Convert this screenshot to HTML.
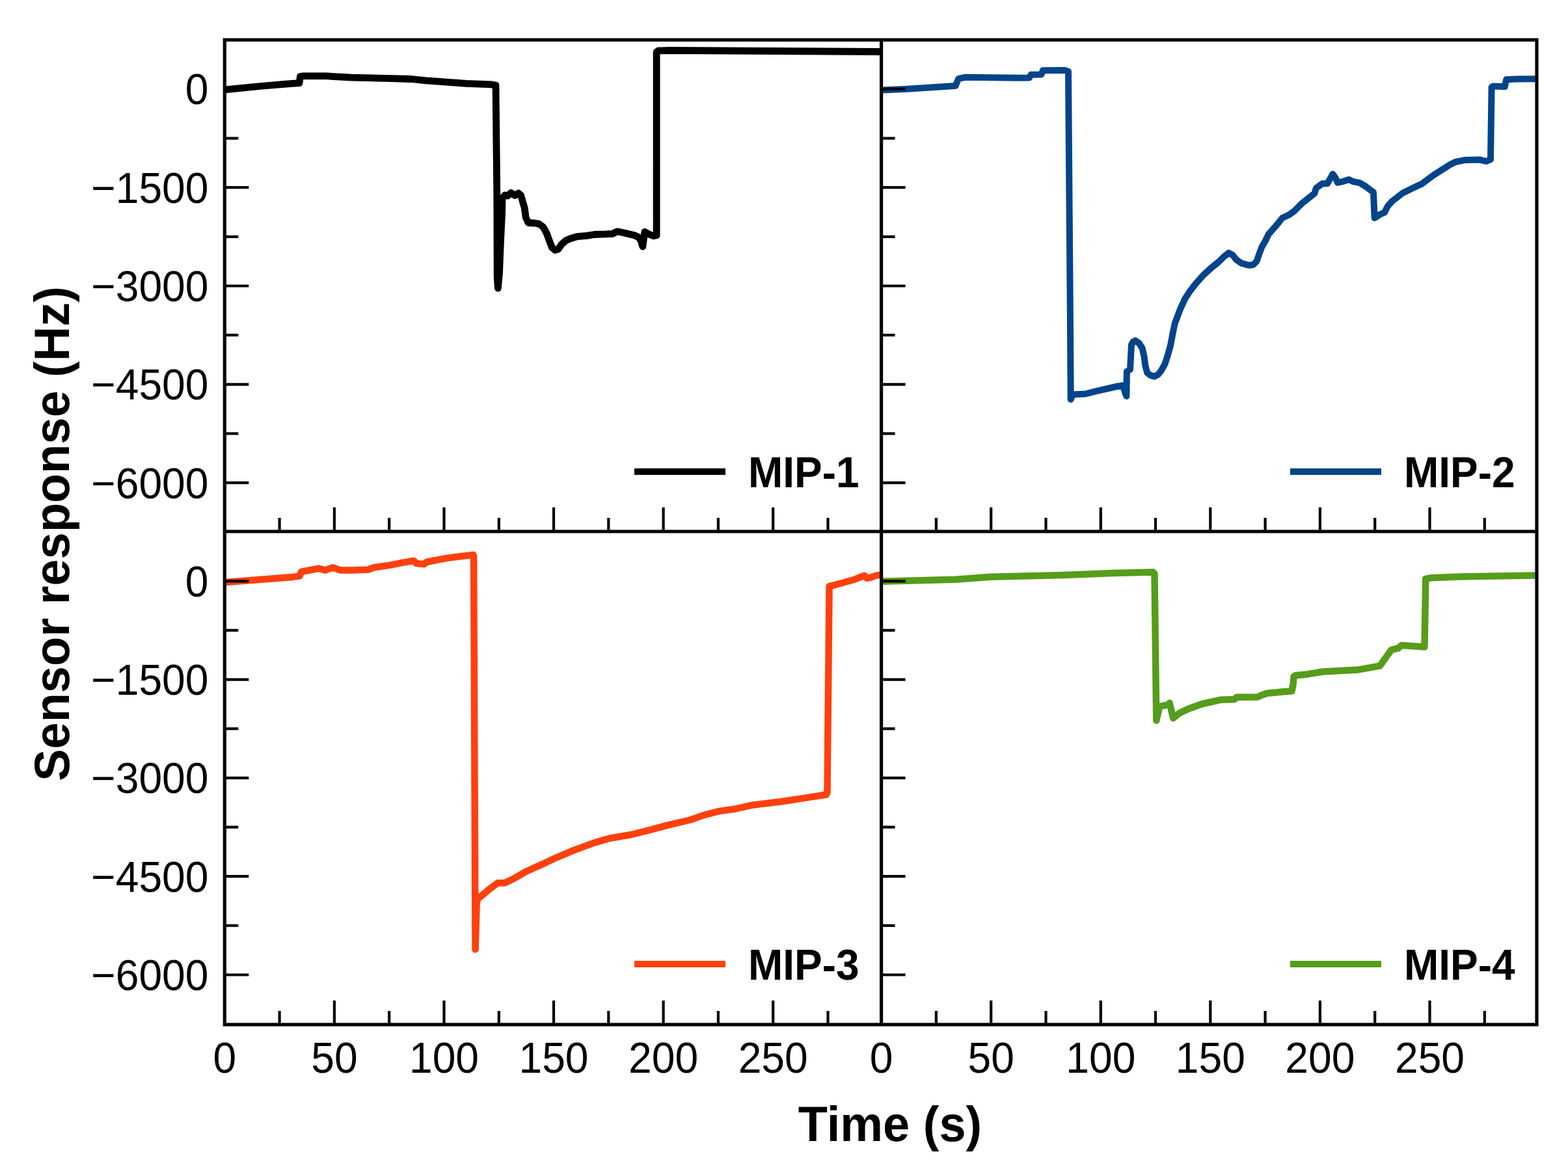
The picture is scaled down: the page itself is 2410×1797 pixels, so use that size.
<!DOCTYPE html>
<html><head><meta charset="utf-8"><title>Sensor response</title>
<style>html,body{margin:0;padding:0;background:#fff;}svg{display:block;}</style></head>
<body><svg xmlns="http://www.w3.org/2000/svg" width="2410" height="1797" viewBox="0 0 2410 1797">
<rect width="2410" height="1797" fill="#fff"/>
<defs>
<clipPath id="tl"><rect x="345.3" y="61.3" width="1009.3" height="755.7"/></clipPath>
<clipPath id="tr"><rect x="1354.6" y="61.3" width="1007.4" height="755.7"/></clipPath>
<clipPath id="bl"><rect x="345.3" y="817.0" width="1009.3" height="758.0"/></clipPath>
<clipPath id="br"><rect x="1354.6" y="817.0" width="1007.4" height="758.0"/></clipPath>
</defs>
<polyline clip-path="url(#tl)" points="346.2,137.8 400.0,132.5 440.0,129.2 460.0,127.6 461.5,117.5 466.0,116.9 501.4,116.9 539.7,119.2 570.4,119.9 601.1,120.7 631.8,121.5 654.8,123.8 685.5,126.1 716.2,128.4 754.5,129.9 762.0,131.0 763.8,300.0 764.2,425.0 765.3,443.0 767.5,420.0 769.5,370.0 771.5,330.0 772.0,305.0 776.0,300.0 780.0,301.0 785.5,296.5 791.5,300.5 797.0,297.0 800.5,300.0 804.0,312.0 806.3,320.0 808.2,334.5 812.1,342.5 821.8,343.0 828.0,344.0 834.9,349.0 840.2,358.7 844.6,370.8 848.4,380.5 853.3,384.4 858.1,383.0 863.0,375.7 870.2,369.4 877.5,366.5 887.2,363.6 901.7,362.3 913.5,360.5 931.0,359.9 941.6,359.3 948.7,355.8 960.4,358.2 975.0,361.7 982.1,365.2 985.0,370.0 987.8,379.0 990.9,356.4 998.5,360.5 1004.4,362.8 1009.1,361.7 1009.1,80.0 1012.0,78.0 1027.9,77.5 1356.0,79.5" fill="none" stroke="#000000" stroke-width="10.8" stroke-linejoin="round" stroke-linecap="round"/>
<polyline clip-path="url(#tr)" points="1355.5,138.4 1391.1,136.9 1468.5,132.1 1473.2,121.1 1484.3,118.7 1568.0,119.8 1582.0,119.6 1584.5,114.8 1600.5,114.5 1603.0,108.2 1637.0,108.1 1642.0,110.0 1645.0,500.0 1645.7,614.0 1649.0,606.4 1668.4,605.5 1687.8,600.6 1716.9,594.0 1726.5,592.5 1729.4,604.0 1731.4,609.0 1731.9,571.0 1737.0,568.0 1739.0,530.0 1741.5,525.5 1745.0,523.6 1750.7,527.5 1755.6,535.2 1758.5,547.8 1760.4,562.3 1763.3,573.0 1768.2,576.9 1774.0,578.8 1779.8,575.9 1784.6,570.0 1790.5,559.4 1794.3,547.8 1799.2,530.4 1803.0,510.0 1805.7,497.5 1813.6,476.2 1821.5,458.9 1829.3,447.1 1837.2,436.9 1849.0,423.5 1860.8,412.5 1872.6,403.0 1880.5,395.2 1888.3,388.9 1894.6,392.0 1900.1,399.1 1908.0,404.6 1919.8,407.8 1926.1,407.0 1931.6,401.5 1935.6,389.7 1939.5,379.4 1945.0,370.0 1949.7,360.1 1961.5,346.8 1970.9,335.0 1981.1,330.3 1989.0,324.7 2000.8,312.9 2012.6,303.5 2020.5,297.2 2022.8,289.3 2032.3,282.3 2040.1,282.3 2048.5,267.5 2052.7,273.6 2055.9,280.7 2063.8,279.1 2073.2,276.0 2079.5,279.1 2090.0,281.2 2099.5,286.9 2110.9,295.4 2112.7,335.0 2121.3,329.5 2127.9,326.7 2132.7,317.2 2139.3,309.6 2156.4,296.4 2180.0,285.0 2184.8,283.1 2203.7,268.9 2229.3,252.7 2236.9,249.0 2251.1,246.1 2274.8,245.6 2284.3,248.0 2291.0,245.2 2292.6,134.0 2295.0,132.5 2312.9,133.2 2315.2,122.3 2331.8,121.5 2363.0,121.2" fill="none" stroke="#03448a" stroke-width="10" stroke-linejoin="round" stroke-linecap="round"/>
<polyline clip-path="url(#bl)" points="347.2,895.0 383.3,892.3 450.0,886.9 460.5,885.6 463.1,879.0 476.2,876.4 489.3,873.8 499.7,876.4 511.5,872.5 523.3,876.4 541.6,876.4 565.2,875.8 574.3,872.5 600.5,868.6 620.2,864.6 635.9,862.0 639.8,866.0 651.6,867.3 655.5,864.0 685.6,858.1 711.8,854.8 727.5,852.9 728.1,855.0 730.6,1459.5 732.6,1390.0 734.0,1382.0 739.3,1377.6 752.0,1367.0 765.0,1357.3 775.8,1357.3 790.0,1350.5 808.3,1339.7 835.4,1327.6 855.7,1318.1 880.0,1307.8 913.8,1295.4 936.4,1288.7 970.3,1283.0 992.8,1277.4 1026.7,1268.4 1060.5,1260.5 1083.1,1252.6 1105.6,1246.9 1130.0,1243.5 1155.1,1237.8 1200.3,1232.2 1245.4,1225.4 1270.2,1221.5 1271.5,1218.0 1274.6,901.3 1296.6,895.5 1313.6,890.7 1324.2,886.5 1328.7,884.8 1332.5,888.8 1337.8,887.8 1346.9,884.6 1356.0,883.5" fill="none" stroke="#ff400e" stroke-width="10.5" stroke-linejoin="round" stroke-linecap="round"/>
<polyline clip-path="url(#br)" points="1356.1,893.8 1469.1,890.8 1522.8,886.8 1636.0,883.9 1711.4,880.9 1772.4,879.6 1774.5,882.0 1777.3,1107.5 1782.2,1086.2 1794.8,1083.4 1797.6,1080.6 1803.2,1104.0 1813.0,1096.0 1827.0,1089.5 1847.9,1082.0 1875.9,1075.8 1897.6,1075.1 1900.5,1071.8 1932.8,1071.6 1938.7,1068.7 1947.4,1065.7 1970.9,1063.4 1985.6,1062.3 1987.9,1050.0 1988.5,1040.0 1991.4,1038.2 2010.0,1036.4 2032.8,1032.5 2085.6,1029.8 2120.8,1023.7 2138.4,999.0 2149.0,996.4 2154.2,992.0 2189.4,994.6 2190.3,950.0 2191.2,889.9 2200.0,888.2 2244.0,886.4 2363.0,884.6" fill="none" stroke="#559d1a" stroke-width="10.5" stroke-linejoin="round" stroke-linecap="round"/>
<g stroke="#000" stroke-width="4.2" stroke-linecap="butt">
<line x1="345.3" y1="136.9" x2="382.3" y2="136.9"/>
<line x1="1354.6" y1="136.9" x2="1391.6" y2="136.9"/>
<line x1="345.3" y1="212.6" x2="366.3" y2="212.6"/>
<line x1="1354.6" y1="212.6" x2="1375.6" y2="212.6"/>
<line x1="345.3" y1="288.2" x2="382.3" y2="288.2"/>
<line x1="1354.6" y1="288.2" x2="1391.6" y2="288.2"/>
<line x1="345.3" y1="363.9" x2="366.3" y2="363.9"/>
<line x1="1354.6" y1="363.9" x2="1375.6" y2="363.9"/>
<line x1="345.3" y1="439.5" x2="382.3" y2="439.5"/>
<line x1="1354.6" y1="439.5" x2="1391.6" y2="439.5"/>
<line x1="345.3" y1="515.1" x2="366.3" y2="515.1"/>
<line x1="1354.6" y1="515.1" x2="1375.6" y2="515.1"/>
<line x1="345.3" y1="590.8" x2="382.3" y2="590.8"/>
<line x1="1354.6" y1="590.8" x2="1391.6" y2="590.8"/>
<line x1="345.3" y1="666.5" x2="366.3" y2="666.5"/>
<line x1="1354.6" y1="666.5" x2="1375.6" y2="666.5"/>
<line x1="345.3" y1="742.1" x2="382.3" y2="742.1"/>
<line x1="1354.6" y1="742.1" x2="1391.6" y2="742.1"/>
<line x1="345.3" y1="893.3" x2="382.3" y2="893.3"/>
<line x1="1354.6" y1="893.3" x2="1391.6" y2="893.3"/>
<line x1="345.3" y1="968.9" x2="366.3" y2="968.9"/>
<line x1="1354.6" y1="968.9" x2="1375.6" y2="968.9"/>
<line x1="345.3" y1="1044.6" x2="382.3" y2="1044.6"/>
<line x1="1354.6" y1="1044.6" x2="1391.6" y2="1044.6"/>
<line x1="345.3" y1="1120.2" x2="366.3" y2="1120.2"/>
<line x1="1354.6" y1="1120.2" x2="1375.6" y2="1120.2"/>
<line x1="345.3" y1="1195.9" x2="382.3" y2="1195.9"/>
<line x1="1354.6" y1="1195.9" x2="1391.6" y2="1195.9"/>
<line x1="345.3" y1="1271.5" x2="366.3" y2="1271.5"/>
<line x1="1354.6" y1="1271.5" x2="1375.6" y2="1271.5"/>
<line x1="345.3" y1="1347.2" x2="382.3" y2="1347.2"/>
<line x1="1354.6" y1="1347.2" x2="1391.6" y2="1347.2"/>
<line x1="345.3" y1="1422.8" x2="366.3" y2="1422.8"/>
<line x1="1354.6" y1="1422.8" x2="1375.6" y2="1422.8"/>
<line x1="345.3" y1="1498.5" x2="382.3" y2="1498.5"/>
<line x1="1354.6" y1="1498.5" x2="1391.6" y2="1498.5"/>
<line x1="429.6" y1="817.0" x2="429.6" y2="796.0"/>
<line x1="513.9" y1="817.0" x2="513.9" y2="780.0"/>
<line x1="598.2" y1="817.0" x2="598.2" y2="796.0"/>
<line x1="682.5" y1="817.0" x2="682.5" y2="780.0"/>
<line x1="766.8" y1="817.0" x2="766.8" y2="796.0"/>
<line x1="851.0" y1="817.0" x2="851.0" y2="780.0"/>
<line x1="935.3" y1="817.0" x2="935.3" y2="796.0"/>
<line x1="1019.6" y1="817.0" x2="1019.6" y2="780.0"/>
<line x1="1103.9" y1="817.0" x2="1103.9" y2="796.0"/>
<line x1="1188.2" y1="817.0" x2="1188.2" y2="780.0"/>
<line x1="1272.5" y1="817.0" x2="1272.5" y2="796.0"/>
<line x1="1438.9" y1="817.0" x2="1438.9" y2="796.0"/>
<line x1="1523.2" y1="817.0" x2="1523.2" y2="780.0"/>
<line x1="1607.5" y1="817.0" x2="1607.5" y2="796.0"/>
<line x1="1691.8" y1="817.0" x2="1691.8" y2="780.0"/>
<line x1="1776.0" y1="817.0" x2="1776.0" y2="796.0"/>
<line x1="1860.3" y1="817.0" x2="1860.3" y2="780.0"/>
<line x1="1944.6" y1="817.0" x2="1944.6" y2="796.0"/>
<line x1="2028.9" y1="817.0" x2="2028.9" y2="780.0"/>
<line x1="2113.2" y1="817.0" x2="2113.2" y2="796.0"/>
<line x1="2197.5" y1="817.0" x2="2197.5" y2="780.0"/>
<line x1="2281.8" y1="817.0" x2="2281.8" y2="796.0"/>
<line x1="429.6" y1="1575.0" x2="429.6" y2="1554.0"/>
<line x1="513.9" y1="1575.0" x2="513.9" y2="1538.0"/>
<line x1="598.2" y1="1575.0" x2="598.2" y2="1554.0"/>
<line x1="682.5" y1="1575.0" x2="682.5" y2="1538.0"/>
<line x1="766.8" y1="1575.0" x2="766.8" y2="1554.0"/>
<line x1="851.0" y1="1575.0" x2="851.0" y2="1538.0"/>
<line x1="935.3" y1="1575.0" x2="935.3" y2="1554.0"/>
<line x1="1019.6" y1="1575.0" x2="1019.6" y2="1538.0"/>
<line x1="1103.9" y1="1575.0" x2="1103.9" y2="1554.0"/>
<line x1="1188.2" y1="1575.0" x2="1188.2" y2="1538.0"/>
<line x1="1272.5" y1="1575.0" x2="1272.5" y2="1554.0"/>
<line x1="1438.9" y1="1575.0" x2="1438.9" y2="1554.0"/>
<line x1="1523.2" y1="1575.0" x2="1523.2" y2="1538.0"/>
<line x1="1607.5" y1="1575.0" x2="1607.5" y2="1554.0"/>
<line x1="1691.8" y1="1575.0" x2="1691.8" y2="1538.0"/>
<line x1="1776.0" y1="1575.0" x2="1776.0" y2="1554.0"/>
<line x1="1860.3" y1="1575.0" x2="1860.3" y2="1538.0"/>
<line x1="1944.6" y1="1575.0" x2="1944.6" y2="1554.0"/>
<line x1="2028.9" y1="1575.0" x2="2028.9" y2="1538.0"/>
<line x1="2113.2" y1="1575.0" x2="2113.2" y2="1554.0"/>
<line x1="2197.5" y1="1575.0" x2="2197.5" y2="1538.0"/>
<line x1="2281.8" y1="1575.0" x2="2281.8" y2="1554.0"/>
</g>
<g stroke="#000" stroke-width="5.2" fill="none">
<rect x="345.3" y="61.3" width="2016.7" height="1513.7" stroke-linejoin="miter"/>
<line x1="1354.6" y1="61.3" x2="1354.6" y2="1575.0"/>
<line x1="345.3" y1="817.0" x2="2362.0" y2="817.0"/>
</g>
<g font-family="'Liberation Sans', Arial, Helvetica, sans-serif" font-size="64.2" fill="#000">
<text transform="translate(320.5,160.3) scale(1,1.035)" text-anchor="end">0</text>
<text transform="translate(320.5,311.6) scale(1,1.035)" text-anchor="end">−1500</text>
<text transform="translate(320.5,462.9) scale(1,1.035)" text-anchor="end">−3000</text>
<text transform="translate(320.5,614.2) scale(1,1.035)" text-anchor="end">−4500</text>
<text transform="translate(320.5,765.5) scale(1,1.035)" text-anchor="end">−6000</text>
<text transform="translate(320.5,916.7) scale(1,1.035)" text-anchor="end">0</text>
<text transform="translate(320.5,1068.0) scale(1,1.035)" text-anchor="end">−1500</text>
<text transform="translate(320.5,1219.3) scale(1,1.035)" text-anchor="end">−3000</text>
<text transform="translate(320.5,1370.6) scale(1,1.035)" text-anchor="end">−4500</text>
<text transform="translate(320.5,1521.9) scale(1,1.035)" text-anchor="end">−6000</text>
<text transform="translate(345.3,1649.2) scale(1,1.035)" text-anchor="middle">0</text>
<text transform="translate(513.9,1649.2) scale(1,1.035)" text-anchor="middle">50</text>
<text transform="translate(682.5,1649.2) scale(1,1.035)" text-anchor="middle">100</text>
<text transform="translate(851.0,1649.2) scale(1,1.035)" text-anchor="middle">150</text>
<text transform="translate(1019.6,1649.2) scale(1,1.035)" text-anchor="middle">200</text>
<text transform="translate(1188.2,1649.2) scale(1,1.035)" text-anchor="middle">250</text>
<text transform="translate(1354.6,1649.2) scale(1,1.035)" text-anchor="middle">0</text>
<text transform="translate(1523.2,1649.2) scale(1,1.035)" text-anchor="middle">50</text>
<text transform="translate(1691.8,1649.2) scale(1,1.035)" text-anchor="middle">100</text>
<text transform="translate(1860.3,1649.2) scale(1,1.035)" text-anchor="middle">150</text>
<text transform="translate(2028.9,1649.2) scale(1,1.035)" text-anchor="middle">200</text>
<text transform="translate(2197.5,1649.2) scale(1,1.035)" text-anchor="middle">250</text>
</g>
<line x1="975" y1="725" x2="1115" y2="725" stroke="#000000" stroke-width="10"/>
<text transform="translate(1150,749) scale(1,1.037)" font-family="'Liberation Sans', Arial, Helvetica, sans-serif" font-size="64" font-weight="bold" fill="#000">MIP-1</text>
<line x1="1983" y1="725" x2="2123" y2="725" stroke="#03448a" stroke-width="10"/>
<text transform="translate(2158,749) scale(1,1.037)" font-family="'Liberation Sans', Arial, Helvetica, sans-serif" font-size="64" font-weight="bold" fill="#000">MIP-2</text>
<line x1="975" y1="1482" x2="1115" y2="1482" stroke="#ff400e" stroke-width="10"/>
<text transform="translate(1150,1506) scale(1,1.037)" font-family="'Liberation Sans', Arial, Helvetica, sans-serif" font-size="64" font-weight="bold" fill="#000">MIP-3</text>
<line x1="1983" y1="1482" x2="2123" y2="1482" stroke="#559d1a" stroke-width="10"/>
<text transform="translate(2158,1506) scale(1,1.037)" font-family="'Liberation Sans', Arial, Helvetica, sans-serif" font-size="64" font-weight="bold" fill="#000">MIP-4</text>
<text transform="translate(1368,1753.5) scale(1,1.037)" text-anchor="middle" font-family="'Liberation Sans', Arial, Helvetica, sans-serif" font-size="74" font-weight="bold" fill="#000">Time (s)</text>
<text transform="translate(106,820.5) rotate(-90) scale(1,1.037)" text-anchor="middle" font-family="'Liberation Sans', Arial, Helvetica, sans-serif" font-size="74" font-weight="bold" fill="#000">Sensor response (Hz)</text>
</svg></body></html>
